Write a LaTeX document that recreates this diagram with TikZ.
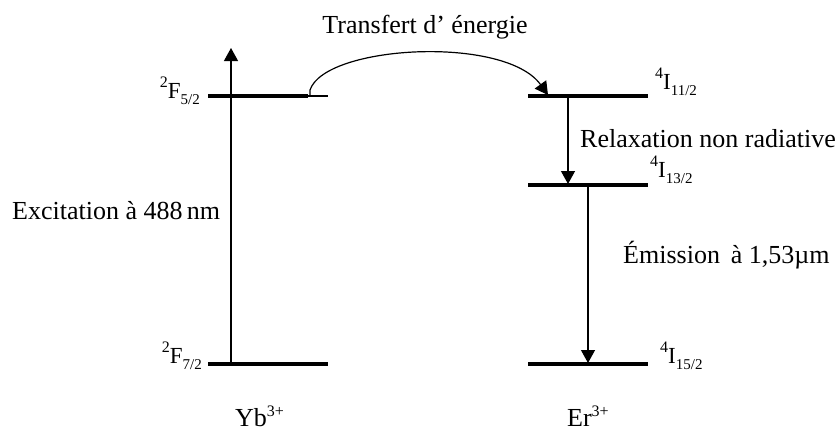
\documentclass[tikz,border=0pt]{standalone}
\usepackage{fontspec}
\setmainfont{Liberation Serif}
\usetikzlibrary{arrows.meta}
\newcommand{\supsz}[1]{{\fontsize{16}{16}\selectfont #1}}
\newcommand{\subsz}[1]{{\fontsize{15}{15}\selectfont #1}}
\newcommand{\termsym}[3]{\raisebox{11pt}{\supsz{#1}}#2\raisebox{-6pt}{\subsz{#3}}}
\begin{document}
\begin{tikzpicture}[x=1pt,y=-1pt,
  level/.style={line width=4pt},
  thinlevel/.style={line width=1.5pt},
  trans/.style={line width=1.2pt,-{Triangle[length=13pt,width=14pt]}},
  lab/.style={font=\fontsize{26}{30}\selectfont, inner sep=0pt},
  termlab/.style={font=\fontsize{23}{26}\selectfont, inner sep=0pt}]
\useasboundingbox (0,0) rectangle (840,432);
% Yb levels
\coordinate (F52a) at (208,96);
\coordinate (F52b) at (308,96);
\coordinate (F52c) at (328,96);
\coordinate (F72a) at (208,364);
\coordinate (F72b) at (328,364);
\draw[level] (F52a) -- (F52b);
\draw[thinlevel] (F52b) -- (F52c);
\draw[level] (F72a) -- (F72b);
% Er levels
\coordinate (I11a) at (528,96);
\coordinate (I11b) at (648,96);
\coordinate (I13a) at (528,185);
\coordinate (I13b) at (648,185);
\coordinate (I15a) at (528,364);
\coordinate (I15b) at (648,364);
\draw[level] (I11a) -- (I11b);
\draw[level] (I13a) -- (I13b);
\draw[level] (I15a) -- (I15b);
% arrows
\coordinate (exB) at (231,364);
\coordinate (exT) at (231,48);
\draw[trans] (exB) -- (exT);
\coordinate (relT) at (568,96);
\coordinate (relB) at (568,184);
\draw[trans] (relT) -- (relB);
\coordinate (emT) at (588,185);
\coordinate (emB) at (588,363);
\draw[trans] (emT) -- (emB);
\coordinate (trA) at (310,96);
\coordinate (trB) at (548,95);
\draw[trans] (trA) -- (310,90) .. controls (325,45) and (505,35) .. (trB);
% labels
\node[lab, anchor=base] (ttr) at (425,33) {Transfert d’ énergie};
\node[lab, anchor=base west] (tex) at (12,219) {Excitation à 488\,nm};
\node[lab, anchor=base west] (trel) at (580,147) {Relaxation non radiative};
\node[lab, anchor=base west] (tem) at (623,263) {Émission \,à 1,53µm};
\node[termlab, anchor=base east] (lF52) at (200,98) {\termsym{2}{F}{5/2}};
\node[termlab, anchor=base east] (lF72) at (202,363) {\termsym{2}{F}{7/2}};
\node[termlab, anchor=base west] (lI11) at (655,89) {\termsym{4}{I}{11/2}};
\node[termlab, anchor=base west] (lI13) at (650,177) {\termsym{4}{I}{13/2}};
\node[termlab, anchor=base west] (lI15) at (660,363) {\termsym{4}{I}{15/2}};
\node[lab, anchor=base west] (yb) at (235,426) {Yb\raisebox{10pt}{\supsz{3+}}};
\node[lab, anchor=base west] (er) at (567,426) {Er\raisebox{10pt}{\supsz{3+}}};
\end{tikzpicture}
\end{document}
